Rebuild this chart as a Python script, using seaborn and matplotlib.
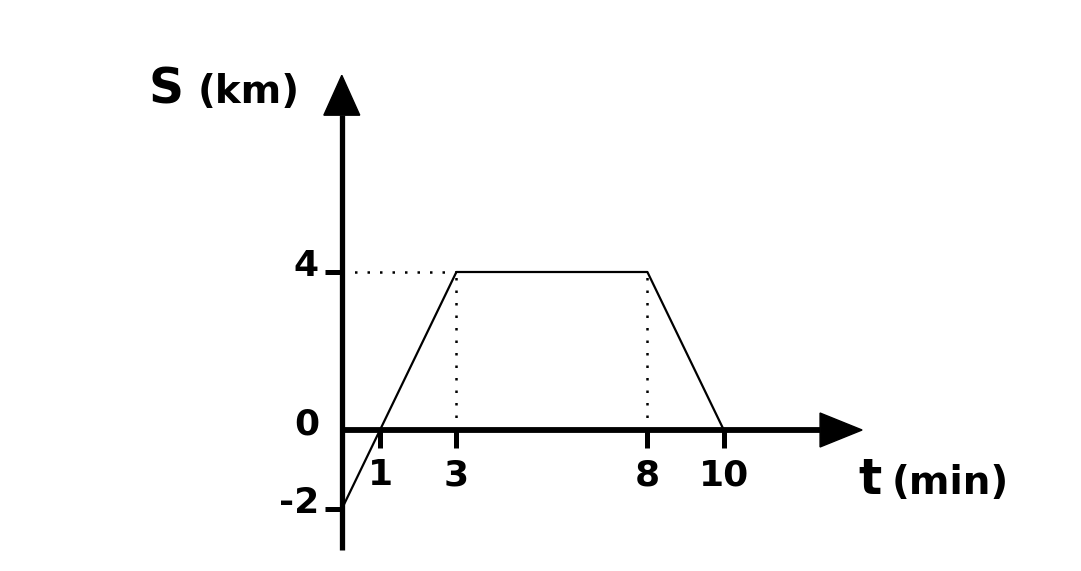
import matplotlib
matplotlib.use("Agg")
import matplotlib.pyplot as plt
import pandas as pd
import seaborn as sns

# Dados do gráfico: posição S (km) em função do tempo t (min)
t_min = [0, 1, 3, 8, 10]
s_km = [-2, 0, 4, 4, 0]
x_ticks = [1, 3, 8, 10]
x_tick_labels = ["1", "3", "8", "10"]
y_ticks = [4, 0, -2]
y_tick_labels = ["4", "0", "-2"]

df = pd.DataFrame({"t": t_min, "S": s_km})

sns.set_style("white")
plt.rcParams["font.family"] = ["DejaVu Sans"]
plt.rcParams["text.color"] = "black"

W, H = 1081, 571
fig = plt.figure(figsize=(W / 100, H / 100), dpi=100)
ax = fig.add_axes([0, 0, 1, 1])

# escala: pixel x = 341.8 + 38.2 t ; pixel y = 430 - 39.5 S
ax.set_xlim(-341.8 / 38.2, (W - 341.8) / 38.2)
ax.set_ylim((430 - H) / 39.5, 430 / 39.5)
ax.axis("off")

# eixos com setas
y_bot, y_top, y_tip = -3.05, 7.97, 8.98
x_end, x_tip = 12.52, 13.62
ax.plot([0, 0], [y_bot, y_top], color="black", lw=3.8, solid_capstyle="butt")
ax.fill([-0.47, 0.47, 0], [y_top, y_top, y_tip], color="black")
ax.plot([0, x_end], [0, 0], color="black", lw=4.2, solid_capstyle="butt")
ax.fill([x_end, x_end, x_tip], [-0.43, 0.43, 0], color="black")

# linhas pontilhadas de referência
ax.plot([0, 3], [4, 4], color="black", lw=1.8, ls=(0, (1, 4)))
ax.plot([3, 3], [0, 4], color="black", lw=1.8, ls=(0, (1, 4)))
ax.plot([8, 8], [0, 4], color="black", lw=1.8, ls=(0, (1, 4)))

# curva S(t)
sns.lineplot(data=df, x="t", y="S", color="black", lw=1.6, ax=ax)

# marcas e rótulos do eixo t
for tv, lab in zip(x_ticks, x_tick_labels):
    ax.plot([tv, tv], [0, -0.45], color="black", lw=3.6, solid_capstyle="butt")
    ax.text(tv, -0.72, lab, ha="center", va="top", fontsize=26,
            fontweight="bold", color="black")

# marcas e rótulos do eixo S
for sv, lab in zip(y_ticks, y_tick_labels):
    if sv != 0:
        ax.plot([-0.45, 0], [sv, sv], color="black", lw=3.6, solid_capstyle="butt")
    ax.text(-0.6, sv + 0.15, lab, ha="right", va="center", fontsize=26,
            fontweight="bold", color="black")

# títulos dos eixos
fig.text(148 / W, 1 - 103 / H, "S", fontsize=35, fontweight="bold",
         ha="left", va="baseline", color="black")
fig.text(198 / W, 1 - 103 / H, "(km)", fontsize=28, fontweight="bold",
         ha="left", va="baseline", color="black")
fig.text(858 / W, 1 - 494 / H, "t", fontsize=35, fontweight="bold",
         ha="left", va="baseline", color="black")
fig.text(892 / W, 1 - 494 / H, "(min)", fontsize=28, fontweight="bold",
         ha="left", va="baseline", color="black")

fig.savefig("out.png", dpi=100)
